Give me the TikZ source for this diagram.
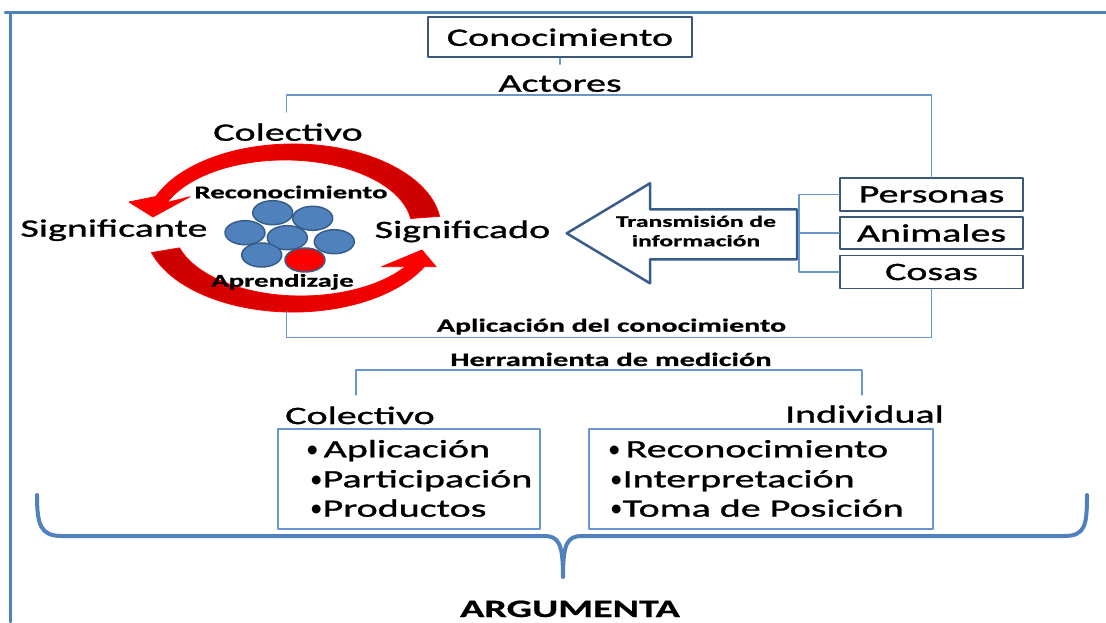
\documentclass[tikz,border=0pt]{standalone}
\usepackage{fontspec}
\setmainfont{Carlito}[FakeStretch=1.6, UprightFeatures={FakeBold=1.2}, BoldFeatures={FakeBold=0.8}]
\newfontfamily\dotfont{Carlito}
\usetikzlibrary{arrows.meta}
\usetikzlibrary{shapes.geometric}
\usetikzlibrary{positioning}
\definecolor{frameblue}{HTML}{4F81BD}
\definecolor{linkblue}{HTML}{6A96CE}
\definecolor{boxblue}{HTML}{3B5878}
\definecolor{beadblue}{HTML}{4F81BD}
\definecolor{beadedge}{HTML}{385D8A}
\definecolor{ringred}{HTML}{FF0000}
\definecolor{ringdark}{HTML}{C80000}
\tikzset{
  frameline/.style={draw=frameblue, line width=2.5pt},
  linkline/.style={draw=linkblue, line width=1.4pt},
  darkbox/.style={draw=boxblue, line width=1.8pt, fill=white, inner sep=0pt},
  listbox/.style={draw=linkblue, line width=1.5pt, inner sep=0pt},
  bead/.style={ellipse, draw=beadedge, fill=beadblue, line width=1.5pt, minimum width=40pt, minimum height=24pt, inner sep=0pt},
  ringarrow/.style={draw=ringred, line width=0.8pt},
  hollowarrow/.style={draw=beadedge, line width=2.5pt, fill=white},
  bracestyle/.style={draw=frameblue, line width=4pt},
  bigtext/.style={font=\fontsize{25}{30}\selectfont},
  boldtext/.style={font=\bfseries\fontsize{18}{21}\selectfont},
  transtext/.style={font=\bfseries\fontsize{16}{19.4}\selectfont, align=center},
}
\newcommand{\itemdot}{{\dotfont\fontsize{25}{30}\selectfont•}}
\begin{document}
\begin{tikzpicture}[x=1pt,y=1pt,line cap=round,line join=round]
\useasboundingbox (0,0) rectangle (1106,622);
% frame
\draw[frameline] (5,609.3) -- (1106,609.3);
\draw[frameline] (10.6,609.3) -- (10.6,0);
% top part
\node[darkbox, bigtext, minimum width=264, minimum height=40] (conoc) at (560,584.7) {Conocimiento};
\draw[linkline] (conoc.south) -- ++(0,-6);
\node[bigtext, anchor=base] (actores) at (560,530.3) {Actores};
\node[darkbox, bigtext, minimum width=183, minimum height=33] (personas) at (931.5,427.5) {Personas};
\node[darkbox, bigtext, minimum width=183, minimum height=32] (animales) at (931.5,389) {Animales};
\node[darkbox, bigtext, minimum width=183, minimum height=33] (cosas) at (931.5,350) {Cosas};
\coordinate (actL) at (286.5,510);
\draw[linkline] (actL) -- ++(0,17) -| (personas.north);
% ring of red arrows
\draw[ringarrow, left color=ringred, right color=ringdark] (439.6,405.7) arc[start angle=8,end angle=158,x radius=148,y radius=84] -- (129,420) -- (153,405) -- (190,425.3) -- (167.2,419.5) arc[start angle=158,end angle=8,x radius=127,y radius=68] -- cycle;
\draw[ringarrow, left color=ringdark, right color=ringred] (151.5,369.4) arc[start angle=197,end angle=332.6,x radius=148,y radius=84] -- (436,355.3) -- (422,372) -- (381.7,355.3) -- (405.4,355.3) arc[start angle=325.3,end angle=197,x radius=127,y radius=68] -- cycle;
\node[bead] (bead1) at (272.7,409.3) {};
\node[bead] (bead2) at (312.7,403.7) {};
\node[bead] (bead3) at (245,389.3) {};
\node[bead] (bead4) at (287.3,384.3) {};
\node[bead] (bead5) at (334.3,380.3) {};
\node[bead] (bead6) at (261.7,367) {};
\node[bead, fill=red] (bead7) at (305,362) {};
\node[bigtext, anchor=base] (colring) at (288,481.3) {Colectivo};
\node[bigtext, anchor=base] (signte) at (114,385.3) {Significante};
\node[bigtext, anchor=base] (signdo) at (462.5,384) {Significado};
\node[boldtext, anchor=base] (recon) at (291,423.7) {Reconocimiento};
\node[boldtext, anchor=base] (aprend) at (282.5,335.3) {Aprendizaje};
% transmission arrow
\draw[hollowarrow] (566.7,388.7) -- (650,438.7) -- (650,412.7) -- (797,412.7) -- (797,362.7) -- (650,362.7) -- (650,338.7) -- cycle;
\node[transtext] (transm) at (696,391) {Transmisión de\\información};
\coordinate (transmR) at (798.5,389);
\draw[linkline] (transmR) -- (animales.west);
\draw[linkline] (personas.west) -- ++(-40,0) |- (cosas.west);
% bottom loop
\coordinate (aplL) at (286.7,310.3);
\draw[linkline] (cosas.south) -- ++(0,-48.4) -| (aplL);
\node[boldtext, anchor=base, font=\bfseries\fontsize{18.7}{22}\selectfont] (aplic) at (611.5,290.3) {Aplicación del conocimiento};
\node[boldtext, anchor=base, font=\bfseries\fontsize{19}{22}\selectfont] (herram) at (611,256) {Herramienta de medición};
\coordinate (herrL) at (356,227);
\coordinate (herrR) at (862,227);
\draw[linkline] (herrL) -- ++(0,25) -| (herrR);
\node[bigtext, anchor=base] (colbajo) at (360,198) {Colectivo};
\node[bigtext, anchor=base] (indiv) at (864.5,199.3) {Individual};
\node[listbox, minimum width=262, minimum height=100] (colbox) at (409,143) {};
\node[listbox, minimum width=344, minimum height=100] (indbox) at (761,143) {};
\node[bigtext, anchor=base west, inner sep=0pt] (col1) at (306,164.7) {\itemdot\hspace{5pt}Aplicación};
\node[bigtext, anchor=base west, inner sep=0pt] (col2) at (310,134.7) {\itemdot Participación};
\node[bigtext, anchor=base west, inner sep=0pt] (col3) at (310,105.3) {\itemdot Productos};
\node[bigtext, anchor=base west, inner sep=0pt] (ind1) at (608,164.7) {\itemdot\hspace{5pt}Reconocimiento};
\node[bigtext, anchor=base west, inner sep=0pt] (ind2) at (610,134.7) {\itemdot Interpretación};
\node[bigtext, anchor=base west, inner sep=0pt] (ind3) at (610,105.3) {\itemdot Toma de Posición};
% brace
\draw[bracestyle] (37,127) .. controls (37,96) and (41,86) .. (62,86) -- (544,86) .. controls (559,86) and (563,78) .. (563,45) .. controls (563,78) and (567,86) .. (582,86) -- (1064,86) .. controls (1085,86) and (1087,96) .. (1087,127);
\node[boldtext, anchor=base, font=\bfseries\fontsize{25}{30}\selectfont] (argum) at (570,5) {ARGUMENTA};
\end{tikzpicture}
\end{document}
